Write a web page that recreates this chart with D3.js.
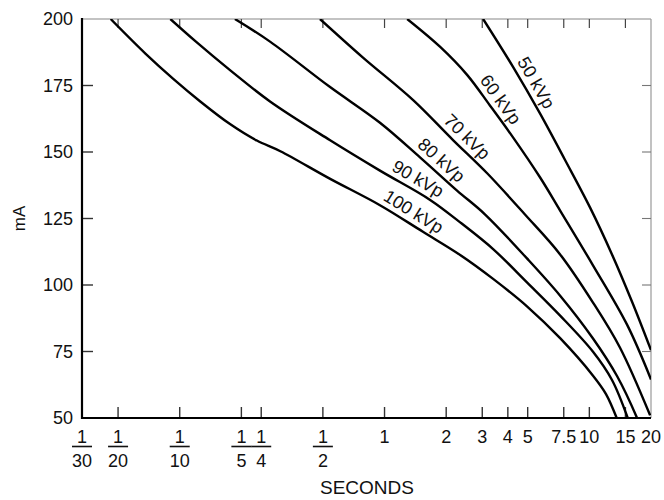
<!DOCTYPE html>
<html>
<head>
<meta charset="utf-8">
<script src="https://cdn.jsdelivr.net/npm/d3@7"></script>
<style>
body { margin: 0; background: #fff; }
text { font-family: "Liberation Sans", Arial, Helvetica, sans-serif; fill: #111; }
</style>
</head>
<body>
<script>
// exposure time (s) vs tube current (mA), one curve per kVp
const labels = ["50 kVp", "60 kVp", "70 kVp", "80 kVp", "90 kVp", "100 kVp"];

const sec50 = [3.03, 4.24, 5.74, 7.61, 10.1, 12.9, 16.2, 20];
const ma50  = [200, 182, 164.5, 147, 129, 111.5, 93.5, 75.5];

const sec60 = [1.29, 1.87, 2.53, 3.27, 4.24, 5.74, 7.2, 10.4, 15.3, 20];
const ma60  = [200, 189.5, 179, 167.5, 155.5, 140.5, 128, 107.5, 85, 64.5];

const sec70 = [0.484, 0.785, 1.38, 2.16, 3.17, 4.85, 7.2, 10.4, 14.1, 19.8];
const ma70  = [200, 185.5, 169.5, 154.5, 142, 126.5, 111.5, 93.5, 76.5, 51];

const sec80 = [0.186, 0.276, 0.54, 0.95, 1.49, 2.26, 3.1, 4.96, 7.2, 10.4, 13.65, 17.1];
const ma80  = [200, 191.5, 174.5, 161, 148, 135.5, 126.5, 110, 96, 80, 65.8, 50];

const sec90 = [0.09, 0.12, 0.176, 0.276, 0.54, 0.95, 1.67, 2.39, 3.39, 4.96, 7.2, 10.4, 12.9, 15.4];
const ma90  = [200, 191.5, 180.8, 169, 154.5, 143, 132, 123, 113.5, 101, 88.5, 75, 64.3, 50];

const sec100 = [0.046, 0.068, 0.093, 0.126, 0.176, 0.238, 0.31, 0.54, 0.95, 1.54, 2.34, 3.39, 4.96, 7.2, 10.4, 12.06, 13.6];
const ma100  = [200, 187, 177.5, 169, 160.5, 154.3, 150.3, 140, 130, 120, 111.3, 102.3, 92, 80, 66, 59, 50];

// where along each curve (seconds) its label sits
const labelSec = [4.89, 3.3, 2.3, 1.73, 1.36, 1.29];

const xTicks   = [1/30, 1/20, 1/10, 1/5, 1/4, 1/2, 1, 2, 3, 4, 5, 7.5, 10, 15, 20];
const xTickNum = ["1", "1", "1", "1", "1", "1", "1", "2", "3", "4", "5", "7.5", "10", "15", "20"];
const xTickDen = ["30", "20", "10", "5", "4", "2", "", "", "", "", "", "", "", "", ""];
const yTicks   = [50, 75, 100, 125, 150, 175, 200];

const series = [
  [sec50, ma50], [sec60, ma60], [sec70, ma70],
  [sec80, ma80], [sec90, ma90], [sec100, ma100]
];

const W = 664, H = 500;
const margin = { top: 19, right: 13, bottom: 82, left: 82 };

const svg = d3.select("body").append("svg")
  .attr("width", W)
  .attr("height", H);

const x = d3.scaleLog()
  .domain([1/30, 20])
  .range([margin.left, W - margin.right]);

const y = d3.scaleLinear()
  .domain([50, 200])
  .range([H - margin.bottom, margin.top]);

const x0 = x.range()[0], x1 = x.range()[1];
const y0 = y.range()[0], y1 = y.range()[1];

// frame: top and right are light, left and bottom heavy
svg.append("line").attr("x1", x0).attr("x2", x1).attr("y1", y1).attr("y2", y1)
  .attr("stroke", "#888").attr("stroke-width", 1.2);
svg.append("line").attr("x1", x1).attr("x2", x1).attr("y1", y1).attr("y2", y0)
  .attr("stroke", "#999").attr("stroke-width", 1.2);

// ticks on all four sides, pointing inward
const tickLen = 11;
svg.append("g").selectAll("line").data(xTicks.slice(1, -1)).join("line")
  .attr("x1", d => x(d)).attr("x2", d => x(d))
  .attr("y1", y0).attr("y2", y0 - tickLen)
  .attr("stroke", "#333").attr("stroke-width", 1.4);
svg.append("g").selectAll("line").data(xTicks.slice(1, -1)).join("line")
  .attr("x1", d => x(d)).attr("x2", d => x(d))
  .attr("y1", y1).attr("y2", y1 + tickLen - 2)
  .attr("stroke", "#444").attr("stroke-width", 1.2);
svg.append("g").selectAll("line").data(yTicks.slice(1, -1)).join("line")
  .attr("x1", x0).attr("x2", x0 + tickLen)
  .attr("y1", d => y(d)).attr("y2", d => y(d))
  .attr("stroke", "#333").attr("stroke-width", 1.4);
svg.append("g").selectAll("line").data(yTicks.slice(1, -1)).join("line")
  .attr("x1", x1).attr("x2", x1 - 9)
  .attr("y1", d => y(d)).attr("y2", d => y(d))
  .attr("stroke", "#777").attr("stroke-width", 1.1);

svg.append("line").attr("x1", x0).attr("x2", x0).attr("y1", y1 - 1).attr("y2", y0 + 1)
  .attr("stroke", "#000").attr("stroke-width", 2.2);
svg.append("line").attr("x1", x0 - 1).attr("x2", x1).attr("y1", y0).attr("y2", y0)
  .attr("stroke", "#000").attr("stroke-width", 2.2);

// y tick labels
svg.append("g").selectAll("text").data(yTicks).join("text")
  .attr("x", x0 - 9)
  .attr("y", d => y(d))
  .attr("text-anchor", "end")
  .attr("dominant-baseline", "central")
  .attr("font-size", 18)
  .text(d => d);

// x tick labels: fractions below 1, plain numbers after
const xl = svg.append("g").selectAll("g").data(xTicks).join("g")
  .attr("transform", d => "translate(" + x(d) + "," + (y0 + 19) + ")");
xl.append("text")
  .attr("text-anchor", "middle")
  .attr("dominant-baseline", "central")
  .attr("font-size", 18)
  .text((d, i) => xTickNum[i]);
xl.filter((d, i) => xTickDen[i] !== "").append("line")
  .attr("x1", -10).attr("x2", 10).attr("y1", 9.5).attr("y2", 9.5)
  .attr("stroke", "#111").attr("stroke-width", 1.6);
xl.filter((d, i) => xTickDen[i] !== "").append("text")
  .attr("y", 24)
  .attr("text-anchor", "middle")
  .attr("dominant-baseline", "central")
  .attr("font-size", 18)
  .text((d, i) => xTickDen[i]);

// axis titles
svg.append("text")
  .attr("x", 367)
  .attr("y", 487)
  .attr("text-anchor", "middle")
  .attr("dominant-baseline", "central")
  .attr("font-size", 19)
  .text("SECONDS");
svg.append("text")
  .attr("transform", "translate(19," + y(125) + ") rotate(-90)")
  .attr("text-anchor", "middle")
  .attr("dominant-baseline", "central")
  .attr("font-size", 17)
  .text("mA");

// curves
svg.append("clipPath").attr("id", "plot")
  .append("rect").attr("x", x0).attr("y", y1).attr("width", x1 - x0).attr("height", y0 - y1);

const line = d3.line()
  .x(d => x(d[0]))
  .y(d => y(d[1]))
  .curve(d3.curveCatmullRom.alpha(0.5));

const pts = series.map(s => s[0].map((v, i) => [v, s[1][i]]));

svg.append("g").attr("clip-path", "url(#plot)")
  .selectAll("path").data(pts).join("path")
  .attr("d", line)
  .attr("fill", "none")
  .attr("stroke", "#000")
  .attr("stroke-width", 2.4)
  .attr("stroke-linejoin", "round");

// curve labels, rotated along the local slope, just above each curve
pts.forEach((p, k) => {
  const px = p.map(d => [x(d[0]), y(d[1])]);
  const lx = x(labelSec[k]);
  let j = 0;
  while (j < px.length - 2 && px[j + 1][0] < lx) j++;
  const a = px[j], b = px[j + 1];
  const t = (lx - a[0]) / (b[0] - a[0]);
  const ly = a[1] + t * (b[1] - a[1]);
  const ang = Math.atan2(b[1] - a[1], b[0] - a[0]);
  const off = 12;
  const cx = lx + off * Math.sin(ang);
  const cy = ly - off * Math.cos(ang);
  svg.append("text")
    .attr("transform", "translate(" + cx + "," + cy + ") rotate(" + (ang * 180 / Math.PI) + ")")
    .attr("text-anchor", "middle")
    .attr("dominant-baseline", "central")
    .attr("font-size", 18)
    .text(labels[k]);
});
</script>
</body>
</html>
